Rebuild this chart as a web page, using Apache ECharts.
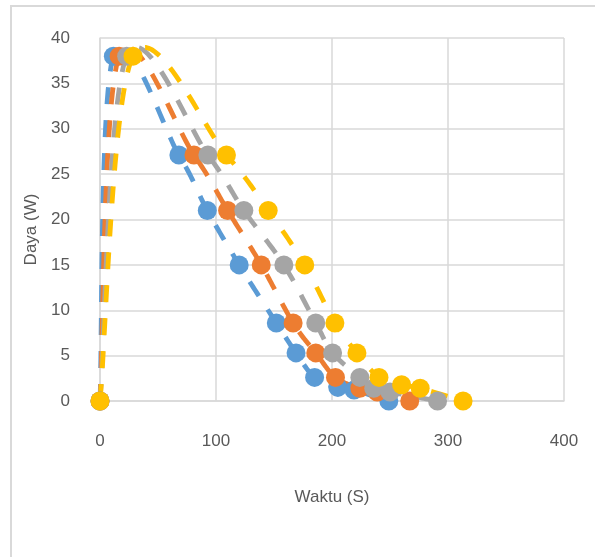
<!DOCTYPE html>
<html lang="id">
<head>
  <meta charset="UTF-8">
  <title>Daya vs Waktu</title>
  <script src="https://cdn.jsdelivr.net/npm/echarts@6/dist/echarts.min.js"></script>
  <style>
    html, body {
      margin: 0;
      padding: 0;
      background: #fff;
    }
    .frame {
      position: absolute;
      left: 10px;
      top: 5px;
      width: 600px;
      height: 570px;
      border: 2px solid #d9d9d9;
    }
    .box {
      position: absolute;
      left: 0;
      top: 0;
      width: 595px;
      height: 557px;
    }
  </style>
</head>
<body>
<div class="frame"></div>
<div class="box"></div>

<script>
  // waktu (S) / daya (W) per seri
  var waktuBiru = [0, 11.5, 68, 92.5, 120, 152, 169, 185, 205, 219, 249];
  var dayaBiru = [0, 38, 27.1, 21, 15, 8.6, 5.3, 2.6, 1.5, 1.2, 0];

  var waktuOranye = [0, 16.5, 81, 110, 139, 166.5, 186, 203, 224, 239, 267];
  var dayaOranye = [0, 38, 27.1, 21, 15, 8.6, 5.3, 2.6, 1.4, 1.0, 0];

  var waktuAbu = [0, 23, 93, 124, 158.5, 186, 200.5, 224, 236, 250, 291];
  var dayaAbu = [0, 38, 27.1, 21, 15, 8.6, 5.3, 2.6, 1.4, 1.0, 0];

  var waktuKuning = [0, 28.5, 109, 145, 176.5, 202.5, 221.5, 240.5, 260, 276, 313];
  var dayaKuning = [0, 38, 27.1, 21, 15, 8.6, 5.3, 2.6, 1.8, 1.4, 0];

  var warna = ['#5b9bd5', '#ed7d31', '#a5a5a5', '#ffc000'];

  function pasangan(xs, ys) {
    var out = [];
    for (var i = 0; i < xs.length; i++) {
      out.push([xs[i], ys[i]]);
    }
    return out;
  }

  // kurva halus ala Excel (Catmull-Rom -> Bezier), dihitung di piksel
  function kurva(p) {
    var n = p.length, out = [p[0]];
    for (var i = 0; i < n - 1; i++) {
      var p0 = p[Math.max(i - 1, 0)], p1 = p[i], p2 = p[i + 1], p3 = p[Math.min(i + 2, n - 1)];
      var c1 = [p1[0] + (p2[0] - p0[0]) / 6, p1[1] + (p2[1] - p0[1]) / 6];
      var c2 = [p2[0] - (p3[0] - p1[0]) / 6, p2[1] - (p3[1] - p1[1]) / 6];
      for (var s = 1; s <= 30; s++) {
        var t = s / 30, u = 1 - t;
        out.push([
          u * u * u * p1[0] + 3 * u * u * t * c1[0] + 3 * u * t * t * c2[0] + t * t * t * p2[0],
          u * u * u * p1[1] + 3 * u * u * t * c1[1] + 3 * u * t * t * c2[1] + t * t * t * p2[1]
        ]);
      }
    }
    return out;
  }

  function garis(xs, ys, c) {
    var data = pasangan(xs, ys);
    return {
      type: 'custom',
      coordinateSystem: 'cartesian2d',
      silent: true,
      data: data,
      encode: { x: 0, y: 1 },
      renderItem: function (params, api) {
        if (params.dataIndex !== 0) return null;
        var px = data.map(function (d) { return api.coord(d); });
        return {
          type: 'polyline',
          shape: { points: kurva(px) },
          style: { stroke: c, fill: null, lineWidth: 4.8, lineDash: [17, 16], lineCap: 'butt' }
        };
      }
    };
  }

  function titik(xs, ys, c) {
    return {
      type: 'scatter',
      data: pasangan(xs, ys),
      symbol: 'circle',
      symbolSize: 19,
      itemStyle: { color: c, opacity: 1 }
    };
  }

  var chart = echarts.init(document.getElementsByClassName('box')[0]);
  var labelStyle = { color: '#595959', fontSize: 17, fontFamily: 'Liberation Sans, sans-serif' };

  var option = {
    animation: false,
    grid: { left: 100, top: 38, right: 31, bottom: 156 },
    xAxis: {
      type: 'value',
      min: 0,
      max: 400,
      interval: 100,
      name: 'Waktu (S)',
      nameLocation: 'middle',
      nameGap: 88,
      nameTextStyle: labelStyle,
      axisLine: { show: true, lineStyle: { color: '#d9d9d9', width: 1.5 } },
      axisTick: { show: false },
      axisLabel: Object.assign({ margin: 32 }, labelStyle),
      splitLine: { show: true, lineStyle: { color: '#d9d9d9', width: 1.5 } }
    },
    yAxis: {
      type: 'value',
      min: 0,
      max: 40,
      interval: 5,
      name: 'Daya (W)',
      nameLocation: 'middle',
      nameGap: 59,
      nameRotate: 90,
      nameTextStyle: Object.assign({ padding: [0, 20, 0, 0] }, labelStyle),
      axisLine: { show: true, lineStyle: { color: '#d9d9d9', width: 1.5 } },
      axisTick: { show: false },
      axisLabel: Object.assign({ margin: 30 }, labelStyle),
      splitLine: { show: true, lineStyle: { color: '#d9d9d9', width: 1.5 } }
    },
    series: [
      garis(waktuBiru, dayaBiru, warna[0]),
      titik(waktuBiru, dayaBiru, warna[0]),
      garis(waktuOranye, dayaOranye, warna[1]),
      titik(waktuOranye, dayaOranye, warna[1]),
      garis(waktuAbu, dayaAbu, warna[2]),
      titik(waktuAbu, dayaAbu, warna[2]),
      garis(waktuKuning, dayaKuning, warna[3]),
      titik(waktuKuning, dayaKuning, warna[3])
    ]
  };

  chart.setOption(option);
</script>
</body>
</html>
